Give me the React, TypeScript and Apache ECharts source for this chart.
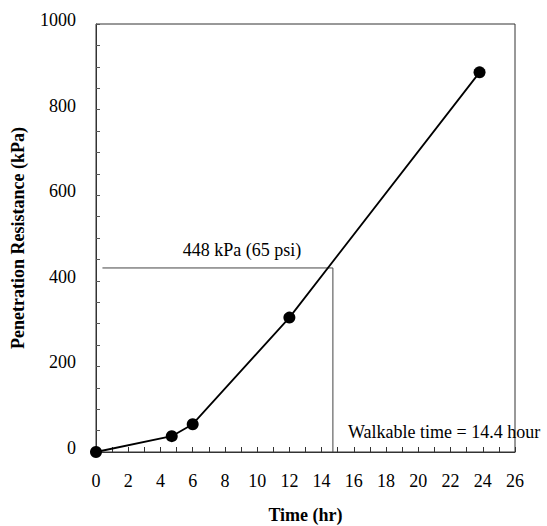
import React, { useEffect, useRef } from "react";
import * as echarts from "echarts";

const timeHr = [0, 4.7, 6, 12, 23.8];
const resistanceKPa = [0, 37, 65, 314, 887];
const guideX = [0.4, 14.7, 14.7];
const guideY = [430, 430, 0];
const xTitle = "Time (hr)";
const yTitle = "Penetration Resistance (kPa)";
const noteTop = "448 kPa (65 psi)";
const noteBottom = "Walkable time = 14.4 hour";

const FONT = "serif";

export default function App() {
  const ref = useRef<HTMLDivElement>(null);
  useEffect(() => {
    if (!ref.current) return;
    const chart = echarts.init(ref.current, undefined, { renderer: "svg" });
    chart.setOption({
      animation: false,
      backgroundColor: "#fff",
      grid: {
        left: 96,
        top: 24,
        right: 32,
        bottom: 74,
        outerBoundsMode: "none",
        containLabel: false,
        show: true,
        borderColor: "#333",
        borderWidth: 1,
      },
      xAxis: {
        type: "value",
        min: 0,
        max: 26,
        interval: 2,
        name: xTitle,
        nameLocation: "middle",
        nameGap: 54,
        nameTextStyle: { fontFamily: FONT, fontSize: 18, fontWeight: "bold", color: "#000" },
        axisLine: { show: true, lineStyle: { color: "#333", width: 1 } },
        axisTick: { show: true, inside: true, length: 5, lineStyle: { color: "#333" } },
        minorTick: { show: true, splitNumber: 2, length: 5, lineStyle: { color: "#333" } },
        splitLine: { show: false },
        axisLabel: { fontFamily: FONT, fontSize: 18, color: "#000", margin: 20 },
      },
      yAxis: {
        type: "value",
        min: 0,
        max: 1000,
        interval: 200,
        name: yTitle,
        nameLocation: "middle",
        nameGap: 69,
        nameTextStyle: { fontFamily: FONT, fontSize: 18, fontWeight: "bold", color: "#000" },
        axisLine: { show: true, lineStyle: { color: "#333", width: 1 } },
        axisTick: { show: true, inside: true, length: 4, lineStyle: { color: "#555" } },
        minorTick: { show: true, splitNumber: 4, length: 4, lineStyle: { color: "#555" } },
        splitLine: { show: false },
        axisLabel: {
          fontFamily: FONT,
          fontSize: 18,
          color: "#000",
          margin: 20,
          verticalAlign: "bottom",
          lineHeight: 8,
          formatter: (v: number) => String(v),
        },
      },
      series: [
        {
          type: "line",
          data: guideX.map((x, i) => [x, guideY[i]]),
          showSymbol: false,
          symbol: "none",
          lineStyle: { color: "#444", width: 1 },
          silent: true,
          z: 1,
        },
        {
          type: "line",
          data: timeHr.map((t, i) => [t, resistanceKPa[i]]),
          symbol: "circle",
          symbolSize: 12,
          itemStyle: { color: "#000" },
          lineStyle: { color: "#000", width: 1.8 },
          z: 3,
        },
      ],
      graphic: [
        {
          type: "text",
          x: 242,
          y: 250,
          style: {
            text: noteTop,
            fontFamily: FONT,
            fontSize: 18,
            fill: "#000",
            align: "center",
            verticalAlign: "middle",
          },
        },
        {
          type: "text",
          x: 348,
          y: 432,
          style: {
            text: noteBottom,
            fontFamily: FONT,
            fontSize: 18,
            fill: "#000",
            align: "left",
            verticalAlign: "middle",
          },
        },
      ],
    });
    return () => chart.dispose();
  }, []);
  return (
    <div
      ref={ref}
      style={{ position: "absolute", left: 0, top: 0, width: 547, height: 526 }}
    />
  );
}
